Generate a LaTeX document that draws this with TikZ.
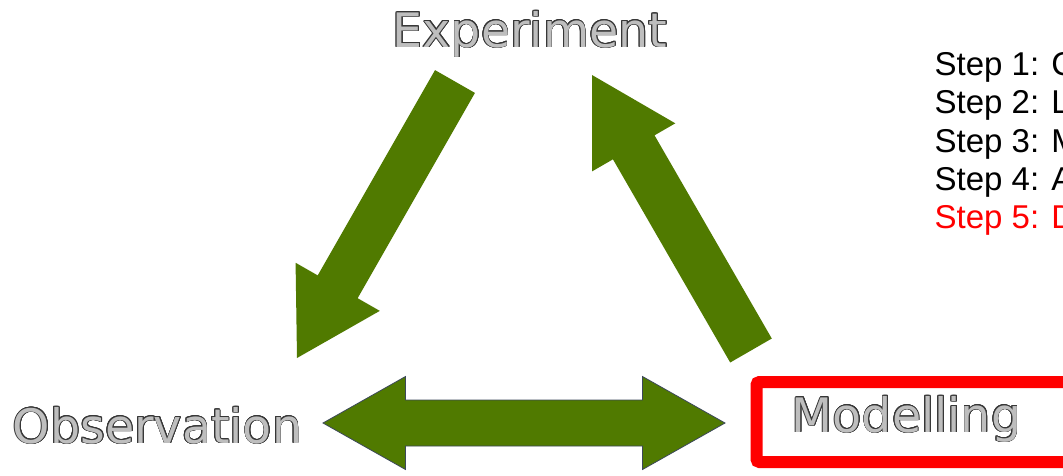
\documentclass[tikz,border=0pt]{standalone}
\usepackage{fontspec}
\usepackage[copies]{contour}
\usetikzlibrary{calc}
\newfontfamily\lblfont{DejaVu Sans}
\newfontfamily\stepfont{Liberation Sans}
\definecolor{arrowgreen}{RGB}{80,122,0}
\definecolor{arrowedge}{RGB}{60,72,90}
\definecolor{lbledge}{RGB}{55,55,55}
\definecolor{lblfill}{RGB}{190,190,190}
\contourlength{0.9pt}
\newcommand{\outlbl}[1]{\contour{lbledge}{\textcolor{lblfill}{#1}}}
% #1 name, #2 tail, #3 tip, #4 shaft half width, #5 head half width, #6 head length
\newcommand{\blkarrow}[6]{%
  \coordinate (#1-b) at ($(#3)!#6!(#2)$);
  \fill[arrowgreen] ($(#2)!#4!90:(#3)$) -- ($(#1-b)!#4!90:(#3)$) -- ($(#1-b)!#5!90:(#3)$)
    -- (#3) -- ($(#1-b)!#5!-90:(#3)$) -- ($(#1-b)!#4!-90:(#3)$) -- ($(#2)!#4!-90:(#3)$) -- cycle;
}
% #1 name, #2 left tip, #3 right tip, #4 shaft half width, #5 head half width, #6 head length
\newcommand{\dblarrow}[6]{%
  \coordinate (#1-bl) at ($(#2)!#6!(#3)$);
  \coordinate (#1-br) at ($(#3)!#6!(#2)$);
  \filldraw[fill=arrowgreen, draw=arrowedge, line width=0.8pt, line join=miter]
    (#2) -- ($(#1-bl)!#5!90:(#3)$) -- ($(#1-bl)!#4!90:(#3)$) -- ($(#1-br)!#4!-90:(#2)$)
    -- ($(#1-br)!#5!-90:(#2)$) -- (#3) -- ($(#1-br)!#5!90:(#2)$) -- ($(#1-br)!#4!90:(#2)$)
    -- ($(#1-bl)!#4!-90:(#3)$) -- ($(#1-bl)!#5!-90:(#3)$) -- cycle;
}
\begin{document}
\begin{tikzpicture}[x=1pt,y=-1pt,
  lbl/.style={anchor=base,inner sep=0pt,font=\lblfont\fontsize{47.5}{56}\selectfont},
  steptext/.style={anchor=base west,inner sep=0pt,font=\stepfont\fontsize{33}{38}\selectfont}]
\useasboundingbox (0,0) rectangle (1063,475);
\fill[white] (0,0) rectangle (1063,475);
\clip (0,0) rectangle (1063,475);

% labels
\node[lbl] (exp) at (530,47) {\outlbl{Experiment}};
\node[lbl] (obs) at (157.5,443) {\outlbl{Observation}};
\node[lbl] (mod) at (906.5,432) {\outlbl{Modelling}};

% highlight box round Modelling
\node[draw=red, line width=12pt, rounded corners=3pt, anchor=north west,
      inner sep=0pt, minimum width=340pt, minimum height=80pt] (modbox) at (750.5,376) {};

% arrow end points
\coordinate (a1tail) at (455,81.5);
\coordinate (a1tip) at (297,358);
\coordinate (a2tail) at (751,350.5);
\coordinate (a2tip) at (592,75);
\coordinate (a3left) at (323,423);
\coordinate (a3right) at (725,423);

\blkarrow{a1}{a1tail}{a1tip}{23pt}{48.5pt}{82pt}
\blkarrow{a2}{a2tail}{a2tip}{24pt}{48pt}{83.5pt}
\dblarrow{a3}{a3left}{a3right}{23pt}{46.5pt}{82.5pt}

% steps
\node[steptext] (s1) at (934.5,75) {Step 1: C};
\node[steptext] (s2) at (934.5,113.5) {Step 2: L};
\node[steptext] (s3) at (934.5,152) {Step 3: M};
\node[steptext] (s4) at (934.5,190) {Step 4: A};
\node[steptext, text=red] (s5) at (934.5,228.5) {Step 5: D};
\end{tikzpicture}
\end{document}
